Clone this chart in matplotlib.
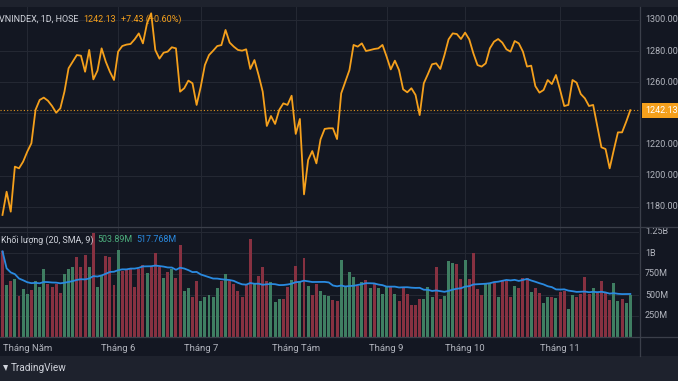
import numpy as np
import pandas as pd
import matplotlib
matplotlib.use('Agg')
import matplotlib.pyplot as plt
from matplotlib.lines import Line2D
from matplotlib.patches import Rectangle, Polygon
import matplotlib.transforms as mtransforms

plt.rcParams['font.family'] = ['Roboto', 'DejaVu Sans']

# --- data (VNINDEX daily, 22/04/2024 - 26/11/2024) ---
holidays = ['2024-04-30', '2024-05-01', '2024-09-02', '2024-09-03']
dates = pd.bdate_range('2024-04-22', '2024-11-26')
dates = dates[~dates.isin(pd.to_datetime(holidays))]

close = [
    1174.9, 1189.8, 1177.0, 1205.9, 1204.8, 1209.1, 1215.5, 1220.9, 1242.3, 1248.7,
    1250.2, 1248.2, 1244.8, 1240.5, 1243.3, 1254.0, 1269.0, 1273.3, 1277.5, 1277.1,
    1266.8, 1280.8, 1261.9, 1267.5, 1281.8, 1273.3, 1266.8, 1261.5, 1279.7, 1283.3,
    1284.2, 1284.6, 1287.6, 1291.4, 1285.0, 1297.9, 1304.3, 1280.7, 1275.2, 1279.0,
    1279.7, 1282.5, 1281.8, 1254.0, 1256.2, 1261.1, 1259.4, 1245.5, 1257.2, 1271.1,
    1277.5, 1280.3, 1283.3, 1283.9, 1293.6, 1285.5, 1282.9, 1280.8, 1280.3, 1281.2,
    1268.6, 1274.3, 1264.7, 1254.0, 1232.0, 1238.4, 1233.3, 1242.3, 1246.5, 1245.5,
    1251.4, 1226.9, 1236.5, 1188.1, 1210.2, 1215.9, 1208.0, 1223.4, 1230.1, 1230.5,
    1230.5, 1223.6, 1252.9, 1260.4, 1267.9, 1284.0, 1282.9, 1285.0, 1280.1, 1280.7,
    1281.4, 1281.8, 1284.0, 1276.5, 1268.3, 1273.9, 1267.9, 1255.5, 1253.6, 1256.2,
    1251.9, 1239.0, 1259.4, 1265.3, 1271.6, 1272.2, 1268.6, 1277.5, 1287.6, 1291.4,
    1291.0, 1287.8, 1291.9, 1287.6, 1278.6, 1271.1, 1270.1, 1272.2, 1281.8, 1286.1,
    1287.8, 1285.5, 1281.2, 1279.7, 1286.5, 1285.0, 1279.7, 1270.1, 1270.7, 1257.6,
    1253.4, 1255.1, 1261.5, 1258.9, 1264.7, 1255.1, 1244.8, 1245.5, 1261.5, 1259.8,
    1252.5, 1249.7, 1244.8, 1245.5, 1232.0, 1218.3, 1217.2, 1204.8, 1216.6, 1227.9,
    1227.9, 1234.70, 1242.13,
]

# khoi luong (trieu cp)
volume_m = [
    1020, 615, 671, 687, 488, 572, 512, 564, 671, 592,
    814, 635, 592, 631, 524, 750, 806, 830, 949, 830,
    980, 830, 1238, 595, 742, 961, 949, 623, 1040, 790,
    802, 822, 595, 814, 861, 762, 830, 1000, 830, 700,
    770, 814, 703, 1092, 544, 584, 472, 671, 433, 472,
    496, 476, 584, 663, 754, 671, 631, 544, 472, 615,
    1167, 631, 723, 830, 663, 655, 417, 457, 457, 592,
    683, 846, 663, 941, 603, 504, 635, 544, 496, 488,
    440, 433, 913, 603, 770, 710, 603, 655, 683, 584,
    643, 584, 512, 592, 592, 512, 433, 592, 512, 377,
    385, 457, 457, 590, 480, 834, 457, 484, 901, 881,
    869, 691, 913, 685, 1000, 570, 502, 635, 635, 645,
    478, 667, 671, 478, 611, 580, 700, 705, 536, 582,
    526, 401, 480, 474, 462, 536, 548, 333, 496, 476,
    512, 711, 512, 584, 524, 671, 532, 437, 643, 425,
    457, 405, 503.89,
]
sma_last = 517.768  # gia tri SMA(20) hien tren bieu do

# g = phien tang, r = phien giam
bar_dir = ("rgrgrggrgg" "grrrrgggrr" "rgrggrrrgr" "rrrrrgrrrg"
           "rgrrggrrgg" "gggrgrrrrr" "rgrrrgggrr" "grgrgrrggg"
           "rrggggrgrg" "rgggrgrrrr" "rrgggrrggg" "rrgrrrrggr"
           "grrrgrrrgr" "rggrgrrggr" "rrrgrrrrgg" "rgg")

month_labels = ['Tháng Năm', 'Tháng 6', 'Tháng 7', 'Tháng Tám',
                'Tháng 9', 'Tháng 10', 'Tháng 11']
price_ticks = [1180, 1200, 1220, 1240, 1260, 1280, 1300]
vol_ticks = [250, 500, 750, 1000, 1250]
vol_tick_labels = ['250M', '500M', '750M', '1B', '1.25B']

# --- colors ---
BG = '#131722'
PANEL = '#1e222d'
GRID = '#242833'
SEP = '#3b3f4a'
TXT = '#b2b5be'
ORANGE = '#f5a01c'
UP = '#3f7e62'
DOWN = '#873141'
BLUE = '#2a8ae0'

W, H = 678, 381
fig = plt.figure(figsize=(W / 100, H / 100), dpi=100, facecolor=BG)

def fx(px):
    return px / W

def fy(py):
    return 1 - py / H

x = np.arange(len(close))
vol = pd.Series(volume_m)
sma = vol.rolling(20, min_periods=1).mean()

month_pos = [np.where(dates.month == m)[0][0] for m in range(5, 12)]
xlim = (-0.6, 154.1)

# price pane
ax = fig.add_axes([0, fy(227), fx(639), (227 - 7) / H])
ax.set_facecolor(BG)
ax.plot(x, close, color=ORANGE, lw=1.3, solid_joinstyle='round')
ax.axhline(close[-1], color=ORANGE, lw=0.8, ls=(0, (1, 2)), alpha=0.9)
ax.set_xlim(*xlim)
ax.set_ylim(1300 + 13 / 1.5583, 1300 - 207 / 1.5583)
ax.invert_yaxis()
ax.set_yticks(price_ticks)
ax.set_xticks(month_pos)
ax.grid(True, color=GRID, lw=0.8)
ax.tick_params(length=0, labelleft=False, labelbottom=False)
for s in ax.spines.values():
    s.set_visible(False)

trans = mtransforms.blended_transform_factory(ax.transAxes, ax.transData)
for p in price_ticks:
    if p == 1240:
        continue
    ax.text(1 + 6 / 639, p, f'{p:.2f}', transform=trans, color=TXT,
            fontsize=6.5, va='center', ha='left', clip_on=False)
ax.text(1 + 6 / 639, close[-1], f'{close[-1]:.2f}', transform=trans,
        color='white', fontsize=6.5, va='center', ha='left', clip_on=False,
        bbox=dict(boxstyle='square,pad=0.35', fc=ORANGE, ec='none'))

# volume pane
axv = fig.add_axes([0, fy(337), fx(639), 110 / H])
axv.set_facecolor(BG)
colors = [UP if c == 'g' else DOWN for c in bar_dir]
axv.bar(x, volume_m, width=0.72, color=colors, linewidth=0)
axv.plot(x, sma, color=BLUE, lw=1.3)
axv.set_xlim(*xlim)
axv.set_ylim(0, 110 / 21 * 250)
axv.set_yticks(vol_ticks)
axv.set_xticks(month_pos)
axv.set_xticklabels(month_labels)
axv.grid(True, color=GRID, lw=0.8)
axv.set_axisbelow(True)
axv.tick_params(length=0, labelleft=False, colors=TXT, labelsize=6.8, pad=5)
for s in axv.spines.values():
    s.set_visible(False)
transv = mtransforms.blended_transform_factory(axv.transAxes, axv.transData)
for v, lab in zip(vol_ticks, vol_tick_labels):
    axv.text(1 + 6 / 639, v, lab, transform=transv, color=TXT,
             fontsize=6.5, va='center', ha='left', clip_on=False)

# khung, duong phan cach
fig.add_artist(Rectangle((0, fy(7)), 1, 7 / H, transform=fig.transFigure,
                         fc=PANEL, ec='none'))
fig.add_artist(Rectangle((0, 0), 1, 25 / H, transform=fig.transFigure,
                         fc=PANEL, ec='none'))
fig.add_artist(Line2D([fx(639.5)] * 2, [fy(7), fy(356)], color=SEP, lw=0.9))
for yy in (227, 337):
    fig.add_artist(Line2D([0, 1], [fy(yy)] * 2, color=SEP, lw=0.9))

# chu thich: dat cac doan chu noi tiep nhau
renderer = fig.canvas.get_renderer()

def text_row(x0, y0, parts, size, gap=5):
    xp = x0
    for s, c in parts:
        t = fig.text(fx(xp), fy(y0), s, color=c, fontsize=size,
                     va='center', ha='left')
        xp += t.get_window_extent(renderer).width + gap

chg = close[-1] - close[-2]
text_row(-1, 19, [('VNINDEX, 1D, HOSE', '#d1d4dc'),
                  (f'{close[-1]:.2f}', ORANGE),
                  (f'+{chg:.2f} (+{chg / close[-2] * 100:.2f}%)', ORANGE)], 6.5)
text_row(1, 240, [('Khối lượng (20, SMA, 9)', '#d1d4dc'),
                  (f'{volume_m[-1]:.2f}M', '#4caf7d'),
                  (f'{sma_last:.3f}M', BLUE)], 6.4, gap=4)

# logo TradingView
fig.add_artist(Polygon([[fx(3), fy(365)], [fx(8), fy(365)], [fx(6), fy(371)]],
                       closed=True, transform=fig.transFigure, fc='#d1d4dc', ec='none'))
fig.text(fx(11), fy(368), 'TradingView', color='#d1d4dc', fontsize=7.2,
         va='center', ha='left')

fig.savefig('out.png', dpi=100, facecolor=BG)
